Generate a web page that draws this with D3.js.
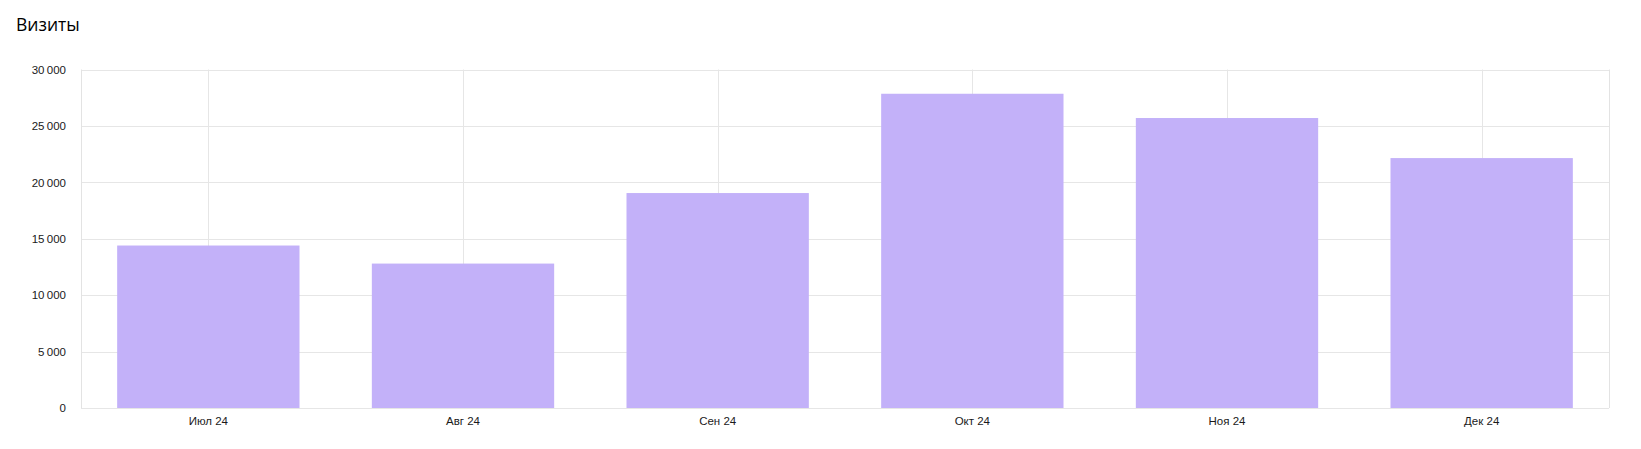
<!DOCTYPE html>
<html><head><meta charset="utf-8">
<script src="https://cdn.jsdelivr.net/npm/d3@7"></script>
<style>
html,body{margin:0;padding:0;background:#fff;}
svg{display:block;font-family:"Liberation Sans",Arial,sans-serif;}
</style></head>
<body>
<svg id="chart" width="1641" height="449"></svg>
<script>
const title = "Визиты";
const categories = ["Июл 24","Авг 24","Сен 24","Окт 24","Ноя 24","Дек 24"];
const visits = [14400, 12800, 19050, 27850, 25700, 22150];
const yTicks = [0, 5000, 10000, 15000, 20000, 25000, 30000];

const svg = d3.select("#chart");
const m = {left:81, right:32, top:69.5, bottom:41};
const W = 1641, H = 449;
const x = d3.scaleBand().domain(categories).range([m.left, W - m.right]).paddingInner(0.284).paddingOuter(0.142);
const y = d3.scaleLinear().domain([0, 30000]).range([H - m.bottom, m.top]);
const fmt = v => d3.format(",")(v).replace(/,/g, "\u202f");

svg.append("text").attr("x", 16).attr("y", 31).attr("font-size", 17.5).attr("fill", "#000")
  .attr("font-family", "'Open Sans', 'Noto Sans', sans-serif").text(title);

// horizontal grid
svg.append("g").selectAll("line").data(yTicks).join("line")
  .attr("x1", m.left).attr("x2", W - m.right)
  .attr("y1", d => Math.round(y(d)) + 0.5).attr("y2", d => Math.round(y(d)) + 0.5)
  .attr("stroke", "#e6e6e6");
// vertical grid at band centers
svg.append("g").selectAll("line").data(categories).join("line")
  .attr("x1", d => Math.round(x(d) + x.bandwidth()/2) + 0.5).attr("x2", d => Math.round(x(d) + x.bandwidth()/2) + 0.5)
  .attr("y1", m.top).attr("y2", H - m.bottom)
  .attr("stroke", "#e6e6e6");
// frame sides
svg.append("line").attr("x1", m.left + 0.5).attr("x2", m.left + 0.5).attr("y1", m.top).attr("y2", H - m.bottom).attr("stroke", "#e3e3e3");
svg.append("line").attr("x1", W - m.right + 0.5).attr("x2", W - m.right + 0.5).attr("y1", m.top).attr("y2", H - m.bottom).attr("stroke", "#e3e3e3");

// bars
svg.append("g").selectAll("rect").data(visits).join("rect")
  .attr("x", (d, i) => x(categories[i]))
  .attr("width", x.bandwidth())
  .attr("y", d => y(d))
  .attr("height", d => y(0) - y(d))
  .attr("fill", "#c3b1f9");

// y axis labels
const yAxis = d3.axisLeft(y).tickValues(yTicks).tickFormat(fmt).tickSize(0).tickPadding(15);
const gy = svg.append("g").attr("transform", `translate(${m.left},0)`).call(yAxis);
gy.select(".domain").remove();
gy.selectAll("text").attr("font-size", 11.5).attr("fill", "#1a1a1a").attr("font-family", "Liberation Sans, Arial, sans-serif");

// x axis labels
const xAxis = d3.axisBottom(x).tickSize(0).tickPadding(9);
const gx = svg.append("g").attr("transform", `translate(0,${H - m.bottom})`).call(xAxis);
gx.select(".domain").remove();
gx.selectAll("text").attr("font-size", 11.5).attr("fill", "#1a1a1a").attr("font-family", "Liberation Sans, Arial, sans-serif");
</script>
</body></html>
